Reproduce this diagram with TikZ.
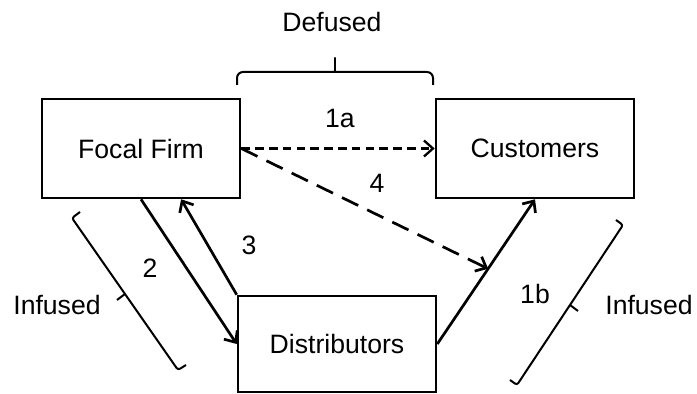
\documentclass[tikz,border=0pt]{standalone}
\usepackage{fontspec}
\setmainfont{Liberation Sans}
\usetikzlibrary{arrows.meta,calc}
\begin{document}
\begin{tikzpicture}[x=0.5pt,y=-0.5pt,
  txt/.style={font=\fontsize{13.3}{16}\selectfont},
  box/.style={draw,line width=1.3pt,minimum width=99pt,minimum height=49.5pt,inner sep=0pt,txt},
  lbl/.style={anchor=base,inner sep=0pt,txt},
  tip/.style={-{Straight Barb[length=4.5pt,width=8pt]}},
  flow/.style={tip,line width=1.35pt},
  shortdash/.style={tip,line width=1.15pt,dash pattern=on 4.3pt off 2.6pt},
  longdash/.style={tip,line width=1.35pt,dash pattern=on 9pt off 5pt},
  brk/.style={line width=1pt,rounded corners=1.2pt}]
\useasboundingbox (0,0) rectangle (697,394);

% actors
\node[box] (ff) at (141,148.5) {Focal Firm};
\node[box] (cu) at (535,148.5) {Customers};
\node[box,minimum height=48pt] (di) at (337,344) {Distributors};

% flows between the actors
\draw[shortdash] (ff.east) -- (cu.west);
\draw[flow] (di.east) -- (cu.south);
\coordinate (m4) at ($(di.east)!0.52!(cu.south)$);
\draw[longdash] (ff.east) -- (m4);
\draw[flow] (ff.south) -- (di.west);
\coordinate (f3) at ($(ff.south)!0.4!(ff.south east)$);
\draw[flow] (di.north west) -- (f3);

% flow numbers
\node[lbl] (l1a) at (340,128) {1a};
\node[lbl] (l4) at (377,193) {4};
\node[lbl] (l3) at (249,255) {3};
\node[lbl] (l2) at (150,278) {2};
\node[lbl] (l1b) at (535,304) {1b};

% brackets
\draw[brk,rounded corners=3pt] (237,85) -- (237,72) -- (433,72) -- (433,85);
\draw[line width=1pt,line cap=round] (335,72) -- (335,58);
\draw[brk] (80,212) -- (72,218) -- (178,370) -- (186,365);
\draw[brk] (125,294) -- (117,300);
\draw[brk] (616,220) -- (623,225) -- (517,385) -- (510,380);
\draw[brk] (570,305) -- (578,311);

% bracket captions
\node[lbl] (def) at (332,32) {Defused};
\node[lbl] (infl) at (57,315) {Infused};
\node[lbl] (infr) at (649,315) {Infused};
\end{tikzpicture}
\end{document}
